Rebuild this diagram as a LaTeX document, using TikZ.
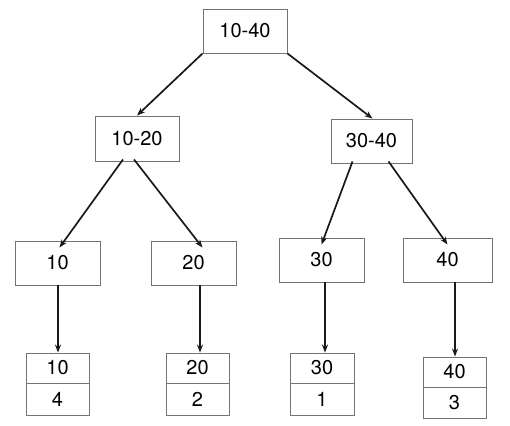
\documentclass[tikz,border=0pt]{standalone}
\usepackage{fontspec}
\setmainfont{TeX Gyre Heros}
\usetikzlibrary{arrows.meta}
\begin{document}
\begin{tikzpicture}[x=1pt,y=-1pt,
  box/.style={draw=black!55,line width=0.9pt,rectangle,inner sep=0pt,font=\fontsize{20}{22}\selectfont},
  conn/.style={line width=1.7pt,draw=black!90,-{Stealth[length=8pt,width=6pt]}}]
\useasboundingbox (0,0) rectangle (510,425);
% levels
\node[box,minimum width=84pt,minimum height=44pt] (root) at (245,31) {10-40};
\node[box,minimum width=84pt,minimum height=45pt] (a) at (137,138.5) {10-20};
\node[box,minimum width=81pt,minimum height=44pt] (b) at (371.5,141) {30-40};
\node[box,minimum width=85pt,minimum height=44pt] (a1) at (57.5,263) {10};
\node[box,minimum width=85pt,minimum height=44pt] (a2) at (193.5,263) {20};
\node[box,minimum width=85pt,minimum height=44pt] (b1) at (321.5,260) {30};
\node[box,minimum width=89pt,minimum height=44pt] (b2) at (447.5,260) {40};
% bottom split boxes
\node[box,minimum width=63pt,minimum height=30pt] (c1t) at (57.5,368) {10};
\node[box,minimum width=63pt,minimum height=32pt] (c1b) at (57.5,399) {4};
\node[box,minimum width=63pt,minimum height=30pt] (c2t) at (197.5,368) {20};
\node[box,minimum width=63pt,minimum height=32pt] (c2b) at (197.5,399) {2};
\node[box,minimum width=64pt,minimum height=30pt] (c3t) at (322,368) {30};
\node[box,minimum width=64pt,minimum height=32pt] (c3b) at (322,399) {1};
\node[box,minimum width=63pt,minimum height=30pt] (c4t) at (454.5,372) {40};
\node[box,minimum width=63pt,minimum height=31pt] (c4b) at (454.5,402.5) {3};
% connectors
\draw[conn] (root.south west) -- (a.north);
\draw[conn] (root.south east) -- ([xshift=1pt]b.north);
\draw[conn] ([xshift=-14pt,yshift=2pt]a.south) -- ([xshift=2pt,yshift=-7pt]a1.north);
\draw[conn] ([xshift=-3pt,yshift=2pt]a.south) -- ([xshift=9pt,yshift=-7pt]a2.north);
\draw[conn] ([xshift=-19pt,yshift=2pt]b.south) -- ([xshift=0pt,yshift=-7pt]b1.north);
\draw[conn] ([xshift=17pt,yshift=2pt]b.south) -- ([xshift=0pt,yshift=-7pt]b2.north);
\draw[conn] ([xshift=0.5pt]c1t.north |- a1.south) -- ([xshift=0.5pt]c1t.north);
\draw[conn] ([xshift=2.5pt]c2t.north |- a2.south) -- ([xshift=2.5pt]c2t.north);
\draw[conn] ([xshift=3pt]c3t.north |- b1.south) -- ([xshift=3pt]c3t.north);
\draw[conn] ([xshift=0.5pt]c4t.north |- b2.south) -- ([xshift=0.5pt]c4t.north);
\end{tikzpicture}
\end{document}
